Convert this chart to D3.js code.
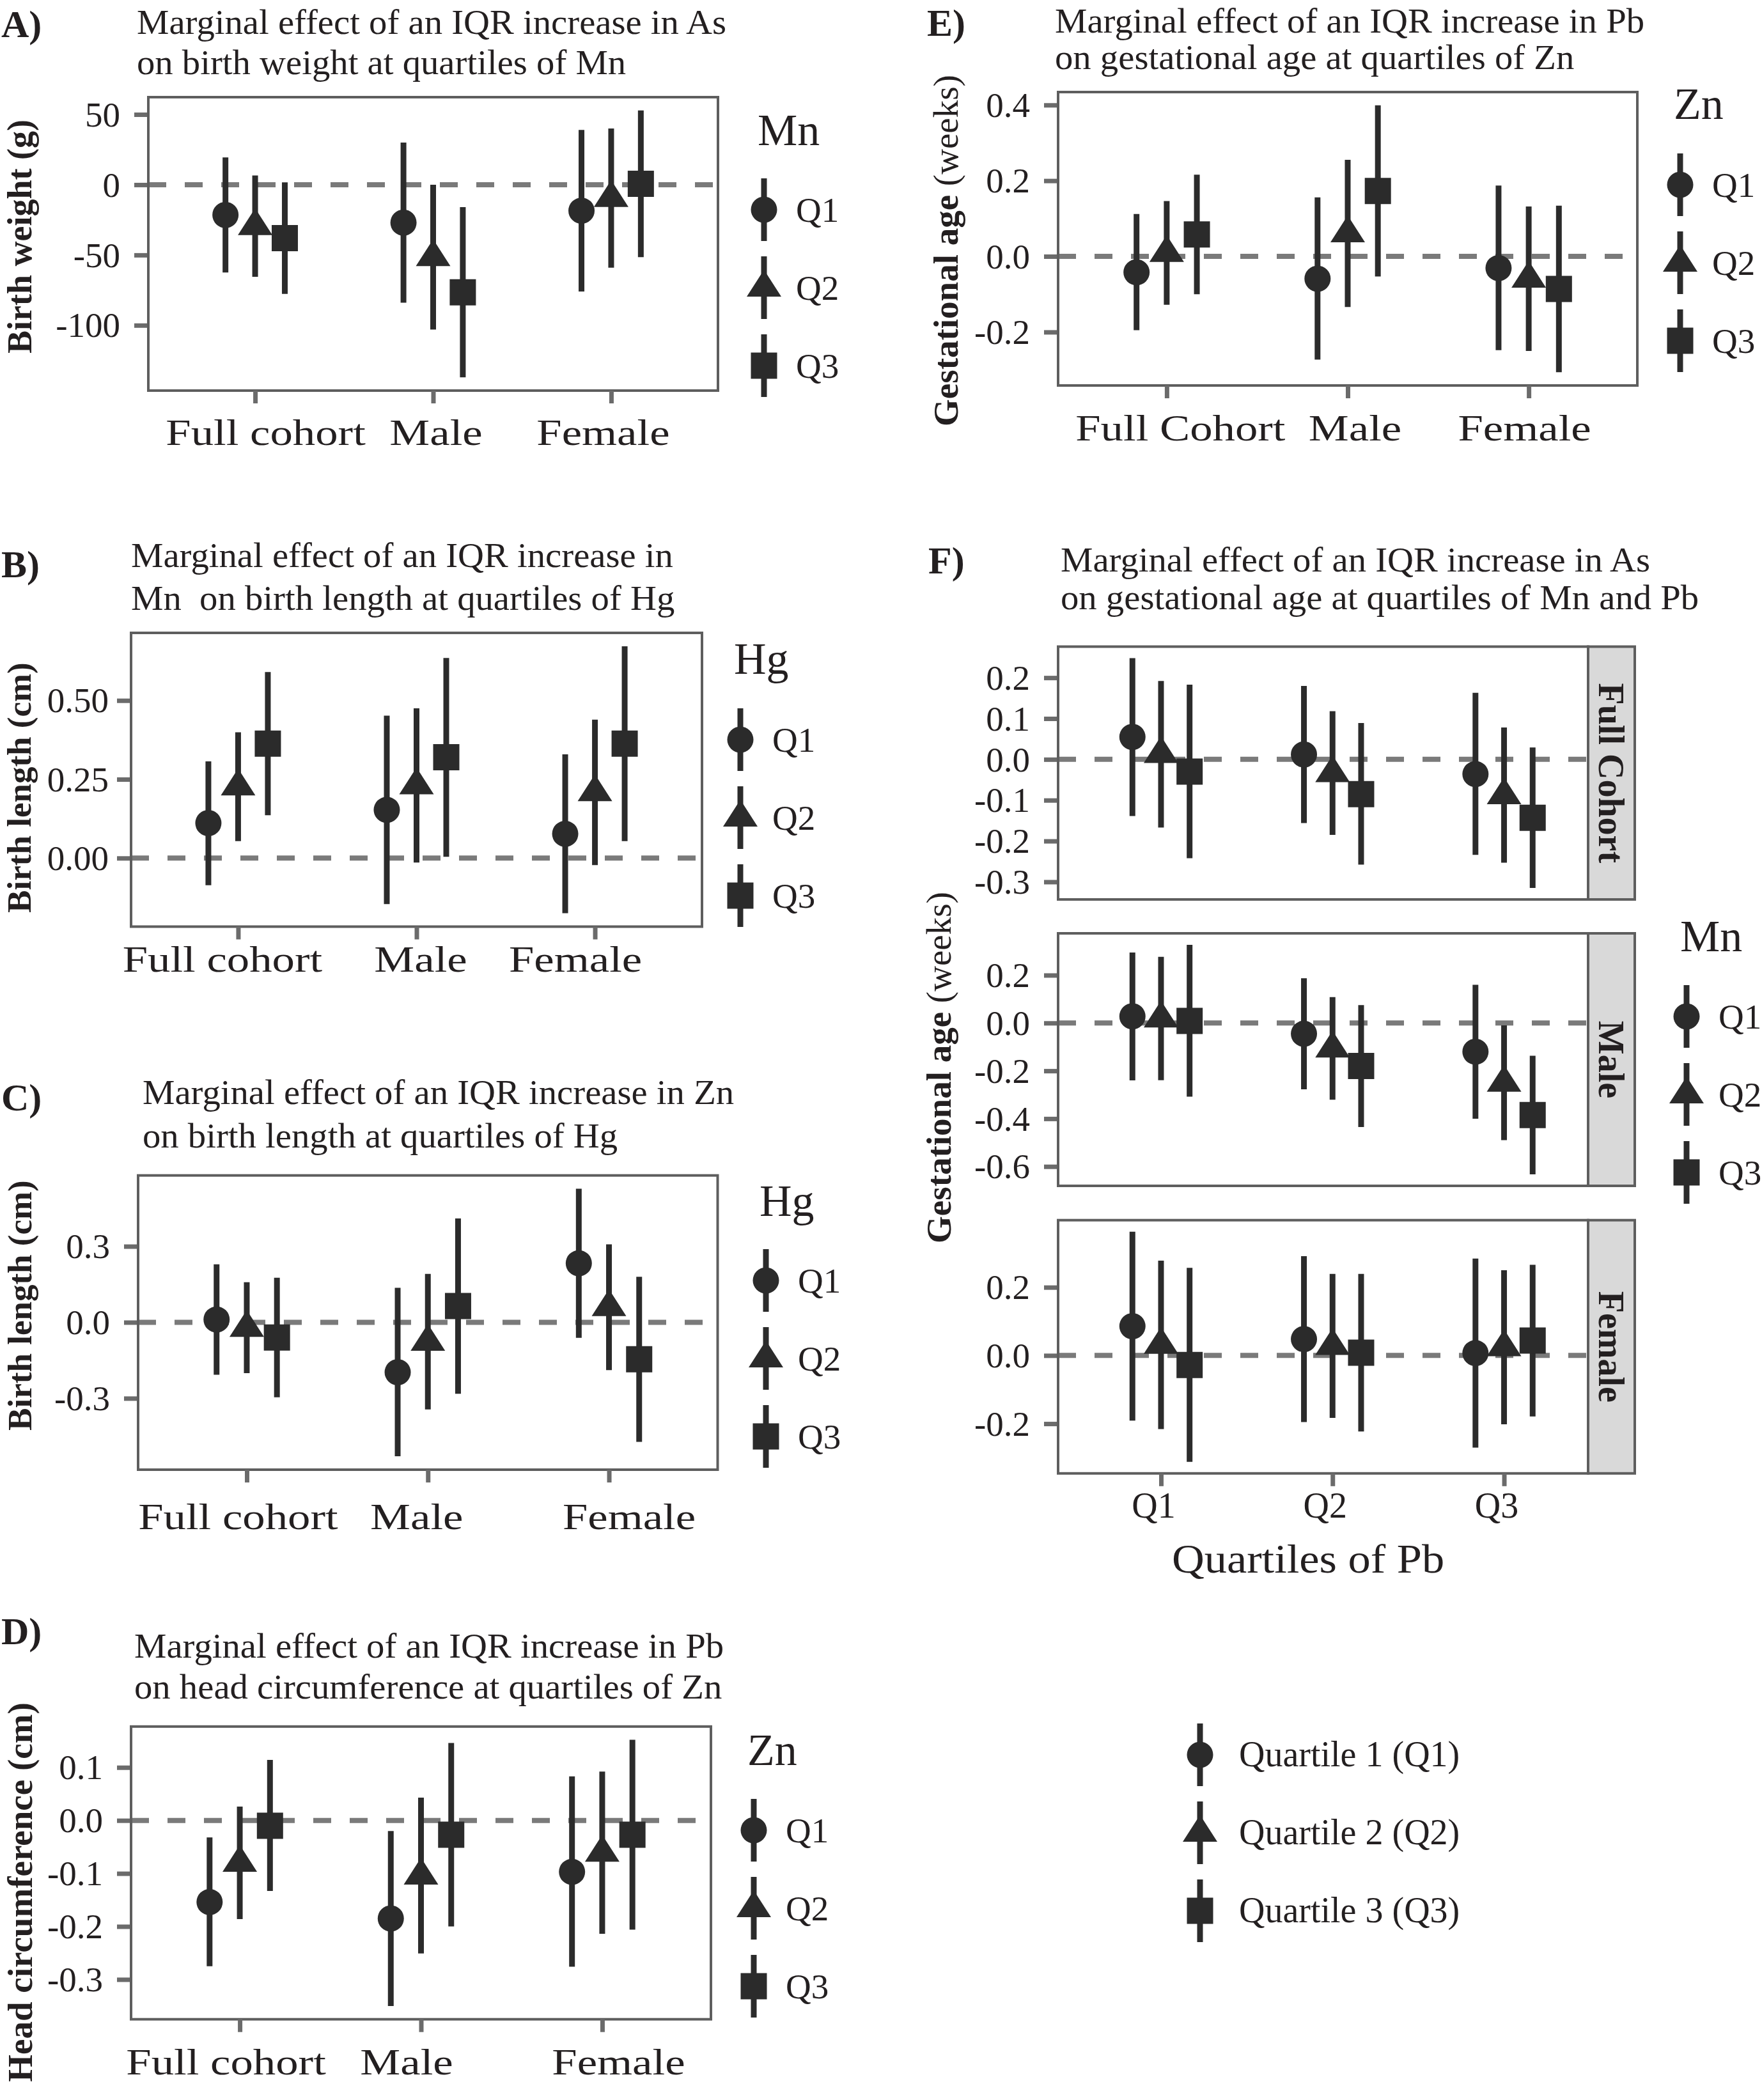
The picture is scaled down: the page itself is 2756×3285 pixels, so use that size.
<!DOCTYPE html>
<html><head><meta charset="utf-8">
<script src="https://cdn.jsdelivr.net/npm/d3@7"></script>
<style>
body{margin:0;background:#fff}
svg{display:block;background:#fff}
text{white-space:pre}
</style>
</head><body>
<svg id="c" width="2756" height="3285"></svg>
<script>
// ---------------- DATA ----------------
const quartiles = ["Q1","Q2","Q3"];
const cohorts = ["Full cohort","Male","Female"];
const cohortsE = ["Full Cohort","Male","Female"];
const pbQuartiles = ["Q1","Q2","Q3"];
const facetsF = ["Full Cohort","Male","Female"];
const legendLabels = ["Quartile 1 (Q1)","Quartile 2 (Q2)","Quartile 3 (Q3)"];

// A) As -> birth weight at quartiles of Mn  [cohort][Mn quartile]
const estA = [[-21.5,-29.5,-38.0],[-27.0,-51.5,-76.5],[-18.5,-9.5,0.7]];
const loA  = [[-62.5,-65.5,-77.7],[-84.0,-103.0,-137.0],[-76.0,-59.0,-51.5]];
const hiA  = [[19.4,6.6,1.7],[30.0,0.0,-16.0],[39.0,40.0,52.8]];
const ticksA = [50,0,-50,-100];
const tickLabA = ["50","0","-50","-100"];

// B) Mn -> birth length at quartiles of Hg
const estB = [[0.111,0.227,0.363],[0.153,0.231,0.320],[0.077,0.209,0.363]];
const loB  = [[-0.086,0.054,0.136],[-0.146,-0.014,0.004],[-0.175,-0.022,0.054]];
const hiB  = [[0.307,0.399,0.590],[0.452,0.475,0.635],[0.329,0.439,0.672]];
const ticksB = [0.5,0.25,0];
const tickLabB = ["0.50","0.25","0.00"];

// C) Zn -> birth length at quartiles of Hg
const estC = [[0.011,-0.022,-0.060],[-0.197,-0.077,0.064],[0.233,0.060,-0.146]];
const loC  = [[-0.207,-0.201,-0.296],[-0.529,-0.344,-0.282],[-0.061,-0.189,-0.472]];
const hiC  = [[0.229,0.158,0.176],[0.136,0.191,0.410],[0.527,0.308,0.180]];
const ticksC = [0.3,0,-0.3];
const tickLabC = ["0.3","0.0","-0.3"];

// D) Pb -> head circumference at quartiles of Zn
const estD = [[-0.154,-0.080,-0.010],[-0.185,-0.104,-0.027],[-0.097,-0.061,-0.027]];
const loD  = [[-0.275,-0.186,-0.133],[-0.350,-0.251,-0.200],[-0.276,-0.214,-0.206]];
const hiD  = [[-0.032,0.026,0.114],[-0.020,0.043,0.146],[0.083,0.092,0.152]];
const ticksD = [0.1,0,-0.1,-0.2,-0.3];
const tickLabD = ["0.1","0.0","-0.1","-0.2","-0.3"];

// E) Pb -> gestational age at quartiles of Zn
const estE = [[-0.042,0.009,0.058],[-0.059,0.061,0.173],[-0.031,-0.059,-0.086]];
const loE  = [[-0.195,-0.128,-0.100],[-0.273,-0.134,-0.053],[-0.248,-0.250,-0.306]];
const hiE  = [[0.112,0.146,0.216],[0.156,0.255,0.399],[0.187,0.132,0.134]];
const ticksE = [0.4,0.2,0,-0.2];
const tickLabE = ["0.4","0.2","0.0","-0.2"];

// F) As -> gestational age at quartiles of Mn and Pb  [Pb quartile][Mn quartile]
const estF_full = [[0.055,0.013,-0.030],[0.012,-0.034,-0.085],[-0.036,-0.088,-0.143]];
const loF_full  = [[-0.139,-0.167,-0.242],[-0.156,-0.185,-0.258],[-0.234,-0.253,-0.315]];
const hiF_full  = [[0.248,0.192,0.183],[0.180,0.118,0.089],[0.163,0.078,0.029]];
const ticksF_full = [0.2,0.1,0,-0.1,-0.2,-0.3];
const tickLabF_full = ["0.2","0.1","0.0","-0.1","-0.2","-0.3"];

const estF_male = [[0.028,0.019,0.009],[-0.045,-0.107,-0.180],[-0.120,-0.250,-0.385]];
const loF_male  = [[-0.240,-0.239,-0.308],[-0.277,-0.321,-0.435],[-0.400,-0.490,-0.633]];
const hiF_male  = [[0.295,0.277,0.327],[0.187,0.108,0.075],[0.160,-0.010,-0.137]];
const ticksF_male = [0.2,0,-0.2,-0.4,-0.6];
const tickLabF_male = ["0.2","0.0","-0.2","-0.4","-0.6"];

const estF_female = [[0.086,0.031,-0.028],[0.048,0.028,0.008],[0.007,0.024,0.044]];
const loF_female  = [[-0.191,-0.216,-0.312],[-0.195,-0.183,-0.223],[-0.270,-0.202,-0.179]];
const hiF_female  = [[0.363,0.278,0.257],[0.291,0.239,0.239],[0.284,0.250,0.266]];
const ticksF_female = [0.2,0,-0.2];
const tickLabF_female = ["0.2","0.0","-0.2"];

// ---------------- STYLE ----------------
const FONT = '"Liberation Serif","Times New Roman",Times,serif';
const INK = "#231f20", MARK = "#2b2b2b", BORDER = "#5e5e5e", TICK = "#6b6b6b", DASH = "#7a7a7a";
const R = 20.5, SQ = 41, TB = 54, TH = 42, EBW = 9;

const svg = d3.select("#c");
svg.append("rect").attr("width",2756).attr("height",3285).attr("fill","#fff");

function txt(parent, x, y, s, o = {}) {
  const t = parent.append("text")
    .attr("transform", `translate(${x},${y}) rotate(${o.rot||0}) scale(${o.sx||1},1)`)
    .attr("font-family", FONT)
    .attr("font-size", o.size || 55)
    .attr("font-weight", o.bold ? "bold" : "normal")
    .attr("text-anchor", o.anchor || "start")
    .attr("fill", INK);
  if (Array.isArray(s)) s.forEach(p => t.append("tspan").attr("font-weight", p[1] ? "bold" : "normal").text(p[0]));
  else t.text(s);
  return t;
}

function shape(j) {
  const p = d3.path();
  if (j === 0) { p.moveTo(R, 0); p.arc(0, 0, R, 0, 2 * Math.PI); }
  else if (j === 1) { p.moveTo(0, -2 * TH / 3); p.lineTo(TB / 2, TH / 3); p.lineTo(-TB / 2, TH / 3); p.closePath(); }
  else { p.rect(-SQ / 2, -SQ / 2, SQ, SQ); }
  return p.toString();
}

function plotBox(g, box, est, lo, hi, ticks, tickLabels, xMax, pad) {
  const [x0, y0, x1, y1] = box;
  const all = lo.flat().concat(hi.flat());
  const mn = d3.min(all), mx = d3.max(all), r = mx - mn;
  const y = d3.scaleLinear().domain([mn - 0.05 * r, mx + 0.05 * r]).range([y1, y0]);
  const x = d3.scaleLinear().domain([0.4, xMax]).range([x0, x1]);
  g.append("line").attr("x1", x0).attr("x2", x1).attr("y1", y(0)).attr("y2", y(0))
    .attr("stroke", DASH).attr("stroke-width", 8).attr("stroke-dasharray", "28,29");
  const pts = [];
  est.forEach((row, i) => row.forEach((e, j) => pts.push({ xv: i + 1 + (j - 1) / 6, e, l: lo[i][j], h: hi[i][j], j })));
  g.append("g").selectAll("line").data(pts).join("line")
    .attr("x1", d => x(d.xv)).attr("x2", d => x(d.xv))
    .attr("y1", d => y(d.l)).attr("y2", d => y(d.h))
    .attr("stroke", MARK).attr("stroke-width", EBW);
  g.append("g").selectAll("path").data(pts).join("path")
    .attr("d", d => shape(d.j))
    .attr("transform", d => `translate(${x(d.xv)},${y(d.e)})`)
    .attr("fill", MARK);
  const ya = d3.axisLeft(y).tickValues(ticks).tickFormat((d, i) => tickLabels[i]).tickSize(22).tickPadding(pad == null ? 22 : pad);
  const ag = g.append("g").attr("transform", `translate(${x0},0)`).call(ya)
    .attr("font-family", FONT).attr("font-size", 55);
  ag.select(".domain").remove();
  ag.selectAll(".tick line").attr("stroke", TICK).attr("stroke-width", 7);
  ag.selectAll(".tick text").attr("fill", INK).attr("dy", "0.33em");
  g.append("rect").attr("x", x0).attr("y", y0).attr("width", x1 - x0).attr("height", y1 - y0)
    .attr("fill", "none").attr("stroke", BORDER).attr("stroke-width", 4);
  return { x, y };
}

function xAxis(g, x, y1, cats, labelY, dx, size, sx) {
  const xa = d3.axisBottom(x).tickValues([1, 2, 3]).tickFormat((d, i) => cats[i]).tickSize(20).tickPadding(0);
  const ag = g.append("g").attr("transform", `translate(0,${y1})`).call(xa)
    .attr("font-family", FONT).attr("font-size", size);
  ag.select(".domain").remove();
  ag.selectAll(".tick line").attr("stroke", TICK).attr("stroke-width", 7);
  ag.selectAll(".tick text").attr("fill", INK).attr("dy", 0)
    .attr("y", labelY - y1).attr("x", (d, i) => dx[i] / sx)
    .attr("transform", `scale(${sx},1)`);
}

function legend(g, kx, titleY, title, centers) {
  txt(g, kx - 10, titleY, title, { size: 70 });
  centers.forEach((c, j) => {
    g.append("line").attr("x1", kx).attr("x2", kx).attr("y1", c - 49).attr("y2", c + 49)
      .attr("stroke", MARK).attr("stroke-width", EBW);
    g.append("path").attr("d", shape(j)).attr("transform", `translate(${kx},${c})`).attr("fill", MARK);
    txt(g, kx + 50, c + 19, quartiles[j], { size: 55 });
  });
}

function titleBlock(g, letter, lx, ly, tx, tys, lines) {
  txt(g, lx, ly, letter, { size: 60, bold: true });
  lines.forEach((l, i) => txt(g, tx, tys[i], l, { size: 54, sx: 1.05 }));
}

// ---------------- PANELS A-E ----------------
const panels = [
  { letter: "A)", lx: 2, ly: 58, tx: 214, tys: [53, 116],
    lines: ["Marginal effect of an IQR increase in As", "on birth weight at quartiles of Mn"],
    box: [232, 152, 1123, 611], est: estA, lo: loA, hi: hiA, ticks: ticksA, tl: tickLabA, pad: 22,
    cats: cohorts, labelY: 696, dx: [16, 4, -13],
    yt: [["Birth weight (g)", true]], ytx: 49, yty: 370, yts: 54,
    leg: { x: 1195, ty: 227, title: "Mn", c: [328, 450, 572] } },
  { letter: "B)", lx: 2, ly: 903, tx: 205, tys: [887, 954],
    lines: ["Marginal effect of an IQR increase in", "Mn  on birth length at quartiles of Hg"],
    box: [205, 990, 1098, 1449.5], est: estB, lo: loB, hi: hiB, ticks: ticksB, tl: tickLabB, pad: 13,
    cats: cohorts, labelY: 1520, dx: [-25, 6, -31],
    yt: [["Birth length (cm)", true]], ytx: 48, yty: 1232, yts: 53,
    leg: { x: 1158, ty: 1054, title: "Hg", c: [1157, 1279, 1401] } },
  { letter: "C)", lx: 2, ly: 1737, tx: 223, tys: [1727, 1795],
    lines: ["Marginal effect of an IQR increase in Zn", "on birth length at quartiles of Hg"],
    box: [216, 1838.7, 1122.5, 2299], est: estC, lo: loC, hi: hiC, ticks: ticksC, tl: tickLabC, pad: 22,
    cats: cohorts, labelY: 2392, dx: [-14, -18, 31],
    yt: [["Birth length (cm)", true]], ytx: 49, yty: 2042, yts: 53,
    leg: { x: 1198, ty: 1902, title: "Hg", c: [2003, 2125, 2247] } },
  { letter: "D)", lx: 2, ly: 2572, tx: 210, tys: [2593, 2657],
    lines: ["Marginal effect of an IQR increase in Pb", "on head circumference at quartiles of Zn"],
    box: [205, 2700.8, 1112, 3158.7], est: estD, lo: loD, hi: hiD, ticks: ticksD, tl: tickLabD, pad: 22,
    cats: cohorts, labelY: 3245, dx: [-22, -23, 25],
    yt: [["Head circumference (cm)", true]], ytx: 50, yty: 2960, yts: 55,
    leg: { x: 1179, ty: 2761, title: "Zn", c: [2863, 2985, 3107] } },
  { letter: "E)", lx: 1450, ly: 56, tx: 1650, tys: [51, 108],
    lines: ["Marginal effect of an IQR increase in Pb", "on gestational age at quartiles of Zn"],
    box: [1655, 144, 2561, 603], est: estE, lo: loE, hi: hiE, ticks: ticksE, tl: tickLabE, pad: 22,
    cats: cohortsE, labelY: 689, dx: [21, 11, -7],
    yt: [["Gestational age ", true], ["(weeks)", false]], ytx: 1498, yty: 392, yts: 55,
    leg: { x: 2628, ty: 186, title: "Zn", c: [289, 411, 533] } }
];

panels.forEach(p => {
  const g = svg.append("g");
  titleBlock(g, p.letter, p.lx, p.ly, p.tx, p.tys, p.lines);
  const { x } = plotBox(g, p.box, p.est, p.lo, p.hi, p.ticks, p.tl, 3.6, p.pad);
  xAxis(g, x, p.box[3], p.cats, p.labelY, p.dx, 58, 1.22);
  txt(g, p.ytx, p.yty, p.yt, { size: p.yts, rot: -90, anchor: "middle" });
  legend(g, p.leg.x, p.leg.ty, p.leg.title, p.leg.c);
});

// ---------------- PANEL F ----------------
const gF = svg.append("g");
titleBlock(gF, "F)", 1452, 897, 1659, [894, 953],
  ["Marginal effect of an IQR increase in As", "on gestational age at quartiles of Mn and Pb"]);
const facetBoxes = [[1655, 1011.5, 2484, 1407], [1655, 1460, 2484, 1855], [1655, 1908.7, 2484, 2304.8]];
const facetData = [
  [estF_full, loF_full, hiF_full, ticksF_full, tickLabF_full],
  [estF_male, loF_male, hiF_male, ticksF_male, tickLabF_male],
  [estF_female, loF_female, hiF_female, ticksF_female, tickLabF_female]
];
let xF;
facetData.forEach((fd, k) => {
  const b = facetBoxes[k];
  const { x } = plotBox(gF, b, fd[0], fd[1], fd[2], fd[3], fd[4], 3.49, 22);
  xF = x;
  gF.append("rect").attr("x", b[2]).attr("y", b[1]).attr("width", 73).attr("height", b[3] - b[1])
    .attr("fill", "#d9d9d9").attr("stroke", BORDER).attr("stroke-width", 4);
  txt(gF, 2501, (b[1] + b[3]) / 2, facetsF[k], { size: 56, bold: true, rot: 90, anchor: "middle" });
});
xAxis(gF, xF, facetBoxes[2][3], pbQuartiles, 2374, [-12, -12, -12], 56, 1.0);
txt(gF, 2046, 2460, "Quartiles of Pb", { size: 64, sx: 1.1, anchor: "middle" });
txt(gF, 1487, 1670, [["Gestational age ", true], ["(weeks)", false]], { size: 55, rot: -90, anchor: "middle" });
legend(gF, 2638, 1488, "Mn", [1590, 1712, 1834]);

// ---------------- SHARED LEGEND ----------------
const gL = svg.append("g");
[2745, 2867, 2989].forEach((c, j) => {
  gL.append("line").attr("x1", 1877).attr("x2", 1877).attr("y1", c - 49).attr("y2", c + 49)
    .attr("stroke", MARK).attr("stroke-width", EBW);
  gL.append("path").attr("d", shape(j)).attr("transform", `translate(1877,${c})`).attr("fill", MARK);
  txt(gL, 1938, c + 18, legendLabels[j], { size: 56 });
});
</script>
</body></html>
